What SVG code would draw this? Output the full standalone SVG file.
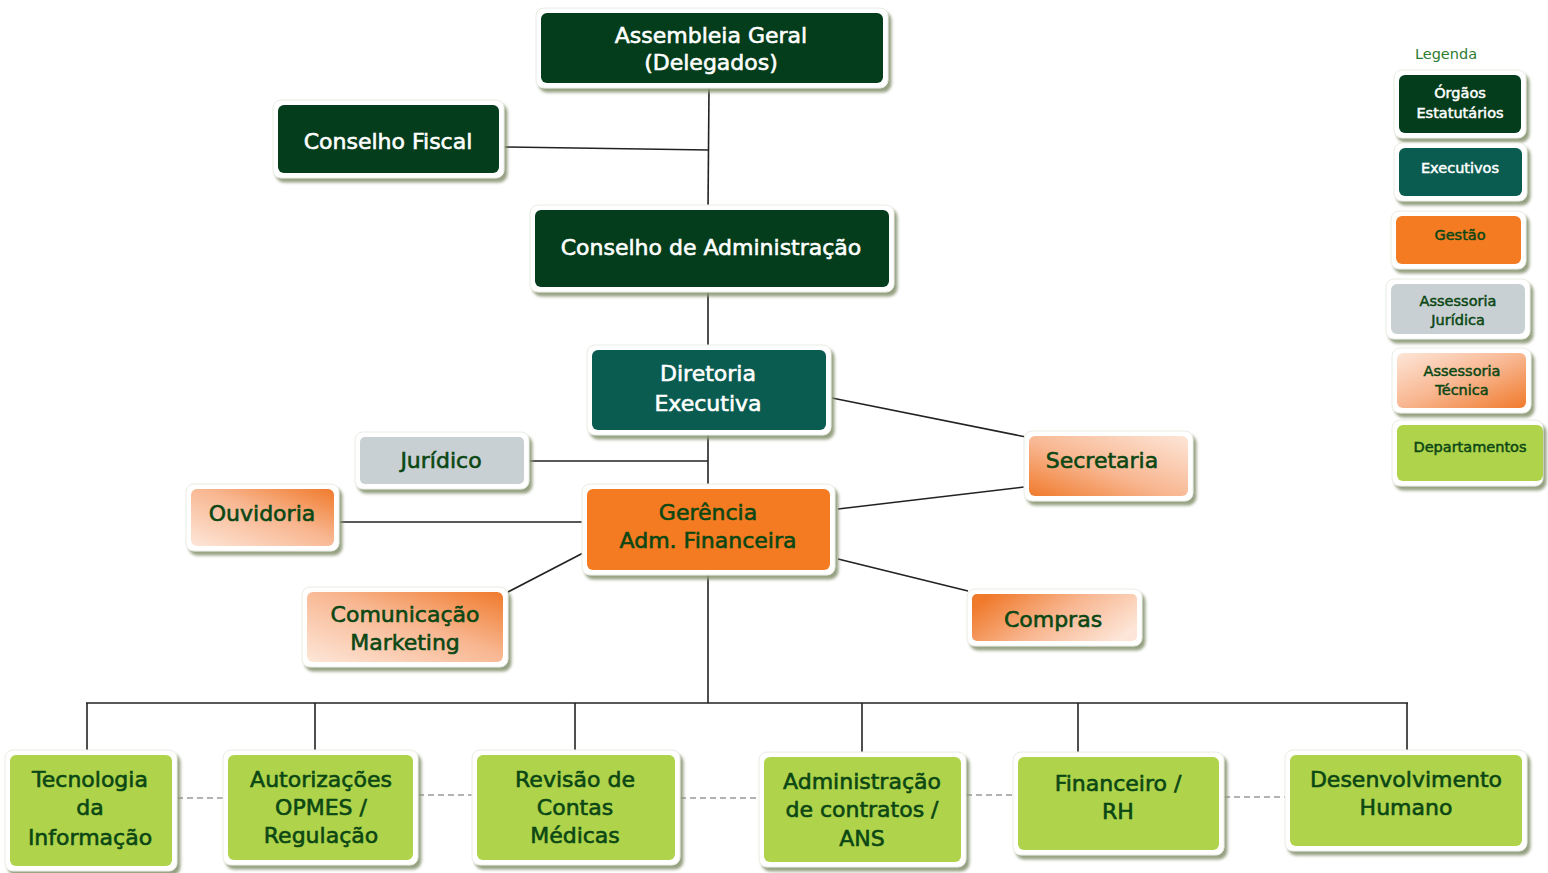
<svg xmlns="http://www.w3.org/2000/svg" width="1548" height="873" viewBox="0 0 1548 873">
<defs>
<filter id="sh" x="-10%" y="-10%" width="130%" height="140%">
<feDropShadow dx="3" dy="4" stdDeviation="1.5" flood-color="#8a9776" flood-opacity="0.9"/>
</filter>
<linearGradient id="pkTR" x1="0" y1="1" x2="1" y2="0">
<stop offset="0" stop-color="#fde6d8"/>
<stop offset="0.55" stop-color="#f8b690"/>
<stop offset="1" stop-color="#f07a2c"/>
</linearGradient>
<linearGradient id="pkBL" x1="0" y1="1" x2="1" y2="0">
<stop offset="0" stop-color="#f07a2c"/>
<stop offset="0.45" stop-color="#f8b690"/>
<stop offset="1" stop-color="#fde6d8"/>
</linearGradient>
<linearGradient id="pkL" x1="0" y1="0.3" x2="1" y2="0.7">
<stop offset="0" stop-color="#f07a2c"/>
<stop offset="0.5" stop-color="#f8b690"/>
<stop offset="1" stop-color="#fde6d8"/>
</linearGradient>
<linearGradient id="pkBR" x1="0" y1="0" x2="1" y2="1">
<stop offset="0" stop-color="#fde6d8"/>
<stop offset="0.5" stop-color="#f8b690"/>
<stop offset="1" stop-color="#f07a2c"/>
</linearGradient>
</defs>
<style>
.fr{fill:#ffffff;stroke:#e8ece2;stroke-width:1;filter:url(#sh)}
.dg{fill:#043d1b}
.tl{fill:#0a5c51}
.or{fill:#f47b21}
.gr{fill:#c9d0d3}
.lg{fill:#afd34a}
.t{font-family:"DejaVu Sans","Liberation Sans",sans-serif;font-size:22px;text-anchor:middle;dominant-baseline:central;stroke-width:0.6px;paint-order:fill}
.w{fill:#ffffff;stroke:#ffffff}
.d{fill:#0b4714;stroke:#0b4714}
.s{font-size:14.5px;stroke-width:0.5px}
.c line{stroke:#222;stroke-width:1.6}
.c .dash{stroke:#999;stroke-width:1.4;stroke-dasharray:6 4}
</style>
<rect width="1548" height="873" fill="#ffffff"/>

<g class="c" id="connectors">
<line x1="709" y1="88" x2="708" y2="210"/>
<line x1="504" y1="147" x2="709" y2="150"/>
<line x1="708" y1="292" x2="708" y2="350"/>
<line x1="708" y1="434" x2="708" y2="489"/>
<line x1="529" y1="461" x2="708" y2="461"/>
<line x1="832" y1="398" x2="1026" y2="437"/>
<line x1="838" y1="509" x2="1024" y2="487"/>
<line x1="340" y1="522" x2="585" y2="522"/>
<line x1="585" y1="552" x2="508" y2="592"/>
<line x1="838" y1="559" x2="968" y2="591"/>
<line x1="708" y1="574" x2="708" y2="703"/>
<line x1="86" y1="703" x2="1408" y2="703"/>
<line x1="87" y1="703" x2="87" y2="752"/>
<line x1="315" y1="703" x2="315" y2="752"/>
<line x1="575" y1="703" x2="575" y2="752"/>
<line x1="862" y1="703" x2="862" y2="752"/>
<line x1="1078" y1="703" x2="1078" y2="752"/>
<line x1="1407" y1="703" x2="1407" y2="752"/>
<line class="dash" x1="177" y1="798" x2="223" y2="798"/>
<line class="dash" x1="418" y1="795" x2="472" y2="795"/>
<line class="dash" x1="680" y1="798" x2="759" y2="798"/>
<line class="dash" x1="966" y1="795" x2="1013" y2="795"/>
<line class="dash" x1="1224" y1="797" x2="1285" y2="797"/>
</g>

<g id="assembleia">
<rect class="fr" x="536" y="8" width="352" height="80" rx="8"/>
<rect class="dg" x="541" y="13" width="342" height="70" rx="6"/>
<text class="t w" x="711" y="35">Assembleia Geral</text>
<text class="t w" x="711" y="62">(Delegados)</text>
</g>

<g id="conselho-fiscal">
<rect class="fr" x="273" y="100" width="231" height="78" rx="8"/>
<rect class="dg" x="278" y="105" width="221" height="68" rx="6"/>
<text class="t w" x="388" y="141">Conselho Fiscal</text>
</g>

<g id="conselho-adm">
<rect class="fr" x="530" y="205" width="364" height="87" rx="8"/>
<rect class="dg" x="535" y="210" width="354" height="77" rx="6"/>
<text class="t w" x="711" y="247">Conselho de Administração</text>
</g>

<g id="diretoria">
<rect class="fr" x="587" y="345" width="244" height="90" rx="8"/>
<rect class="tl" x="592" y="350" width="234" height="80" rx="6"/>
<text class="t w" x="708" y="373">Diretoria</text>
<text class="t w" x="708" y="403">Executiva</text>
</g>

<g id="juridico">
<rect class="fr" x="355" y="432" width="174" height="57" rx="8"/>
<rect class="gr" x="360" y="437" width="164" height="47" rx="5"/>
<text class="t d" x="441" y="460">Jurídico</text>
</g>

<g id="ouvidoria">
<rect class="fr" x="186" y="484" width="153" height="67" rx="8"/>
<rect fill="url(#pkTR)" x="191" y="489" width="143" height="57" rx="6"/>
<text class="t d" x="262" y="513">Ouvidoria</text>
</g>

<g id="gerencia">
<rect class="fr" x="582" y="484" width="253" height="91" rx="8"/>
<rect class="or" x="587" y="489" width="243" height="81" rx="6"/>
<text class="t d" x="708" y="512">Gerência</text>
<text class="t d" x="708" y="540">Adm. Financeira</text>
</g>

<g id="secretaria">
<rect class="fr" x="1024" y="431" width="169" height="70" rx="8"/>
<rect fill="url(#pkBL)" x="1029" y="436" width="159" height="60" rx="6"/>
<text class="t d" x="1102" y="460">Secretaria</text>
</g>

<g id="comunicacao">
<rect class="fr" x="302" y="587" width="206" height="80" rx="8"/>
<rect fill="url(#pkTR)" x="307" y="592" width="196" height="70" rx="6"/>
<text class="t d" x="405" y="614">Comunicação</text>
<text class="t d" x="405" y="642">Marketing</text>
</g>

<g id="compras">
<rect class="fr" x="967" y="589" width="175" height="57" rx="8"/>
<rect fill="url(#pkL)" x="972" y="594" width="165" height="47" rx="5"/>
<text class="t d" x="1053" y="619">Compras</text>
</g>

<g id="tecnologia">
<rect class="fr" x="5" y="750" width="172" height="121" rx="8"/>
<rect class="lg" x="10" y="755" width="162" height="111" rx="6"/>
<text class="t d" x="90" y="779">Tecnologia</text>
<text class="t d" x="90" y="807">da</text>
<text class="t d" x="90" y="837">Informação</text>
</g>

<g id="autorizacoes">
<rect class="fr" x="223" y="750" width="195" height="115" rx="8"/>
<rect class="lg" x="228" y="755" width="185" height="105" rx="6"/>
<text class="t d" x="321" y="779">Autorizações</text>
<text class="t d" x="321" y="807">OPMES /</text>
<text class="t d" x="321" y="835">Regulação</text>
</g>

<g id="revisao">
<rect class="fr" x="472" y="750" width="208" height="115" rx="8"/>
<rect class="lg" x="477" y="755" width="198" height="105" rx="6"/>
<text class="t d" x="575" y="779">Revisão de</text>
<text class="t d" x="575" y="807">Contas</text>
<text class="t d" x="575" y="835">Médicas</text>
</g>

<g id="administracao">
<rect class="fr" x="759" y="752" width="207" height="115" rx="8"/>
<rect class="lg" x="764" y="757" width="197" height="105" rx="6"/>
<text class="t d" x="862" y="781">Administração</text>
<text class="t d" x="862" y="809">de contratos /</text>
<text class="t d" x="862" y="838">ANS</text>
</g>

<g id="financeiro">
<rect class="fr" x="1013" y="752" width="211" height="103" rx="8"/>
<rect class="lg" x="1018" y="757" width="201" height="93" rx="6"/>
<text class="t d" x="1118" y="783">Financeiro /</text>
<text class="t d" x="1118" y="811">RH</text>
</g>

<g id="desenvolvimento">
<rect class="fr" x="1285" y="750" width="242" height="101" rx="8"/>
<rect class="lg" x="1290" y="755" width="232" height="91" rx="6"/>
<text class="t d" x="1406" y="779">Desenvolvimento</text>
<text class="t d" x="1406" y="807">Humano</text>
</g>

<g id="legenda">
<text class="t s" x="1446" y="54" fill="#2e7d32" stroke="none">Legenda</text>
</g>

<g id="leg-orgaos">
<rect class="fr" x="1394" y="70" width="132" height="68" rx="8"/>
<rect class="dg" x="1399" y="75" width="122" height="58" rx="6"/>
<text class="t s w" x="1460" y="93">Órgãos</text>
<text class="t s w" x="1460" y="113">Estatutários</text>
</g>

<g id="leg-executivos">
<rect class="fr" x="1394" y="143" width="133" height="58" rx="8"/>
<rect class="tl" x="1399" y="148" width="123" height="48" rx="6"/>
<text class="t s w" x="1460" y="168">Executivos</text>
</g>

<g id="leg-gestao">
<rect class="fr" x="1391" y="211" width="135" height="58" rx="8"/>
<rect class="or" x="1396" y="216" width="125" height="48" rx="6"/>
<text class="t s d" x="1460" y="235">Gestão</text>
</g>

<g id="leg-juridica">
<rect class="fr" x="1386" y="279" width="144" height="60" rx="8"/>
<rect class="gr" x="1391" y="284" width="134" height="50" rx="6"/>
<text class="t s d" x="1458" y="301">Assessoria</text>
<text class="t s d" x="1458" y="320">Jurídica</text>
</g>

<g id="leg-tecnica">
<rect class="fr" x="1392" y="348" width="139" height="65" rx="8"/>
<rect fill="url(#pkBR)" x="1397" y="353" width="129" height="55" rx="6"/>
<text class="t s d" x="1462" y="371">Assessoria</text>
<text class="t s d" x="1462" y="390">Técnica</text>
</g>

<g id="leg-departamentos">
<rect class="fr" x="1392" y="420" width="151" height="66" rx="8"/>
<rect class="lg" x="1397" y="425" width="146" height="56" rx="6"/>
<text class="t s d" x="1470" y="447">Departamentos</text>
</g>
</svg>
